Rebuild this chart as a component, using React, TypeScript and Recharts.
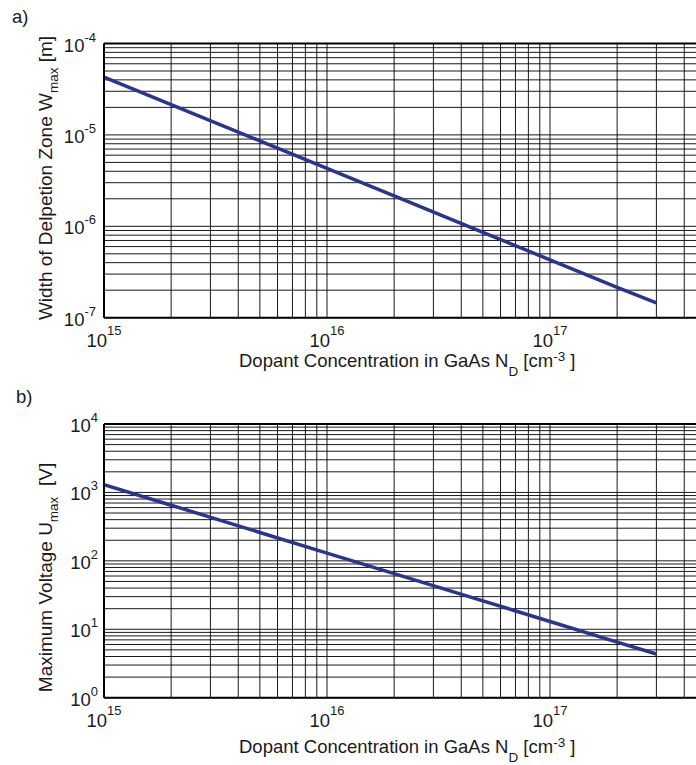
import React from 'react';
import { LineChart, Line, XAxis, YAxis, CartesianGrid, ReferenceLine } from 'recharts';

// donor concentration N_D in GaAs, cm^-3
const dopingLevels = [1e15, 2e15, 5e15, 1e16, 2e16, 5e16, 1e17, 2e17, 3e17];
// a) width of the depletion zone at breakdown, m
const depletionWidth = [4.3e-5, 2.15e-5, 8.6e-6, 4.3e-6, 2.15e-6, 8.6e-7, 4.3e-7, 2.15e-7, 1.45e-7];
// b) maximum (breakdown) voltage, V
const maxVoltage = [1300, 650, 260, 130, 65, 26, 13, 6.5, 4.35];

// decade exponents spanned by each axis
const xDecades = [15, 16, 17, 18];
const widthDecades = [-7, -6, -5, -4];
const voltageDecades = [0, 1, 2, 3, 4];

const FONT = '"Liberation Sans", Arial, Helvetica, sans-serif';
const INK = '#1a1a1a';
const LINE_BLUE = '#29358f';
const PLOT_LEFT = 104;
const PLOT_BOTTOM = 317.7;
const VISIBLE_WIDTH = 696;

// 1..9 x 10^n for every decade, closed by the last power of ten
const logTicks = (decades: number[]) => {
  const out: number[] = [];
  for (let i = 0; i < decades.length - 1; i++) {
    for (let m = 1; m <= 9; m++) out.push(m * Math.pow(10, decades[i]));
  }
  out.push(Math.pow(10, decades[decades.length - 1]));
  return out;
};

const decadeOf = (v: number) => {
  const e = Math.log10(v);
  const r = Math.round(e);
  return Math.abs(e - r) < 1e-6 ? r : null;
};

const XTick = ({ x, payload }: any) => {
  const e = decadeOf(payload.value);
  // the frame runs past the page edge; only label decades that are on screen
  if (e === null || x > VISIBLE_WIDTH - 20) return <g />;
  return (
    <text x={x} y={PLOT_BOTTOM + 29} textAnchor="middle" fontSize={18.5} fill={INK} fontFamily={FONT}>
      10<tspan dy={-12} fontSize={13}>{e}</tspan>
    </text>
  );
};

const makeYTick = (right: number) => ({ y, payload }: any) => {
  const e = decadeOf(payload.value);
  if (e === null) return <g />;
  return (
    <text x={right} y={y + 8} textAnchor="end" fontSize={18.5} fill={INK} fontFamily={FONT}>
      10<tspan dy={-10} fontSize={13}>{e}</tspan>
    </text>
  );
};

const XTitle = ({ y }: { y: number }) => (
  <text x={239} y={y} fontSize={18.5} fill={INK} fontFamily={FONT} style={{ whiteSpace: 'pre' }}>
    Dopant Concentration in GaAs N
    <tspan dy={9} fontSize={13.5}>D</tspan>
    <tspan dy={-9}> [cm</tspan>
    <tspan dy={-6} fontSize={13.5}>-3</tspan>
    <tspan dy={6}> ]</tspan>
  </text>
);

const YTitle = ({ cy, main, unit }: { cy: number; main: string; unit: string }) => (
  <text
    transform="rotate(-90)"
    x={-cy}
    y={52}
    textAnchor="middle"
    fontSize={19}
    fill={INK}
    fontFamily={FONT}
    style={{ whiteSpace: 'pre' }}
  >
    {main}
    <tspan dy={6} fontSize={13.5}>max</tspan>
    <tspan dy={-6}>{unit}</tspan>
  </text>
);

const PanelTag = ({ x, label }: { x: number; label: string }) => (
  <text x={x} y={23} fontSize={18.5} fill={INK} fontFamily={FONT}>
    {label}
  </text>
);

const xTicks = logTicks(xDecades);
const widthTicks = logTicks(widthDecades);
const voltageTicks = logTicks(voltageDecades);

const widthRows = dopingLevels.map((n, i) => ({ n, v: depletionWidth[i] }));
const voltageRows = dopingLevels.map((n, i) => ({ n, v: maxVoltage[i] }));

const axisLine = { stroke: '#000', strokeWidth: 2 };

type PanelProps = {
  rows: { n: number; v: number }[];
  yTicks: number[];
  height: number;
  top: number;
  bottom: number;
  tickRight: number;
  children?: React.ReactNode;
};

const Panel = ({ rows, yTicks, height, top, bottom, tickRight, children }: PanelProps) => (
  <LineChart width={800} height={height} data={rows} margin={{ top, right: 27, bottom, left: 0 }}>
    <CartesianGrid stroke="#000" strokeWidth={1} strokeOpacity={0.9} />
    <XAxis
      dataKey="n"
      type="number"
      scale="log"
      domain={[xTicks[0], xTicks[xTicks.length - 1]]}
      ticks={xTicks}
      interval={0}
      allowDataOverflow
      height={60}
      axisLine={axisLine}
      tickLine={false}
      tick={<XTick />}
    />
    <YAxis
      type="number"
      scale="log"
      domain={[yTicks[0], yTicks[yTicks.length - 1]]}
      ticks={yTicks}
      interval={0}
      allowDataOverflow
      width={PLOT_LEFT}
      axisLine={axisLine}
      tickLine={false}
      tick={makeYTick(tickRight)}
    />
    <ReferenceLine y={yTicks[yTicks.length - 1]} stroke="#000" strokeWidth={2} />
    <Line
      dataKey="v"
      type="linear"
      stroke={LINE_BLUE}
      strokeWidth={3.5}
      dot={false}
      isAnimationActive={false}
    />
    {children}
  </LineChart>
);

export default function App() {
  return (
    <div style={{ position: 'absolute', left: 0, top: 0, width: VISIBLE_WIDTH, height: 765, overflow: 'hidden', background: '#fff' }}>
      <div style={{ position: 'absolute', left: 0, top: 0 }}>
        <Panel rows={widthRows} yTicks={widthTicks} height={380} top={43.5} bottom={2.3} tickRight={96}>
          <PanelTag x={12} label="a)" />
          <YTitle cy={178} main="Width of Delpetion Zone W" unit=" [m]" />
          <XTitle y={367} />
        </Panel>
      </div>
      <div style={{ position: 'absolute', left: 0, top: 380 }}>
        <Panel rows={voltageRows} yTicks={voltageTicks} height={385} top={44} bottom={7.3} tickRight={98}>
          <PanelTag x={16} label="b)" />
          <YTitle cy={197.5} main="Maximum Voltage U" unit="  [V]" />
          <XTitle y={373} />
        </Panel>
      </div>
    </div>
  );
}
